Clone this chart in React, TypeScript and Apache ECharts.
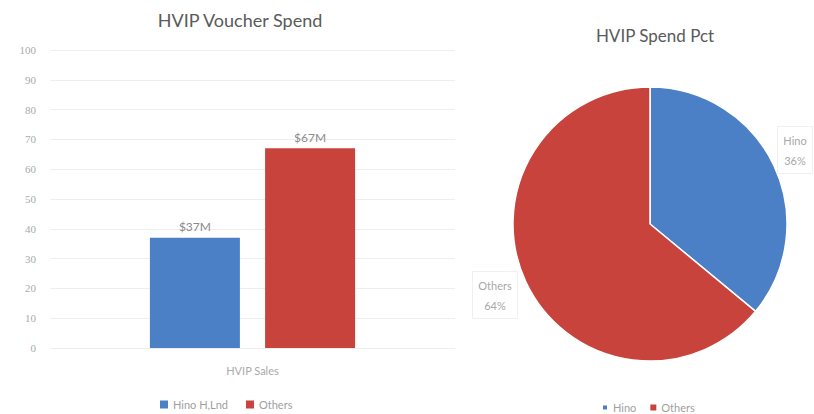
import React, { useEffect, useRef } from "react";
import * as echarts from "echarts";

const categories = ["HVIP Sales"];
const seriesNames = ["Hino H,Lnd", "Others"];
const barValues = [37, 67];
const barLabels = ["$37M", "$67M"];
const pieNames = ["Hino", "Others"];
const pieValues = [36, 64];
const yTicks = { min: 0, max: 100, interval: 10 };

const BLUE = "#4b7fc6";
const RED = "#c7433c";
const FONT = "Lato, 'Open Sans', sans-serif";

export default function App() {
  const ref = useRef<HTMLDivElement>(null);
  useEffect(() => {
    if (!ref.current) return;
    const chart = echarts.init(ref.current, undefined, { renderer: "svg" });
    const colors = [BLUE, RED];
    chart.setOption({
      animation: false,
      backgroundColor: "#ffffff",
      textStyle: { fontFamily: FONT },
      title: [
        {
          text: "HVIP Voucher Spend",
          left: 235,
          textAlign: "center",
          top: 6,
          textStyle: { fontFamily: FONT, fontSize: 18, fontWeight: "normal", color: "#5a5a5a" },
        },
        {
          text: "HVIP Spend Pct",
          left: 650,
          textAlign: "center",
          top: 22,
          textStyle: { fontFamily: FONT, fontSize: 17, fontWeight: "normal", color: "#5a5a5a" },
        },
      ],
      legend: [
        {
          data: seriesNames,
          left: 155,
          top: 394,
          orient: "horizontal",
          icon: "rect",
          itemWidth: 8,
          itemHeight: 8,
          itemGap: 18,
          textStyle: { fontFamily: FONT, fontSize: 11, color: "#a0a0a0" },
        },
        {
          data: pieNames,
          left: 596,
          top: 397,
          icon: "rect",
          itemWidth: 6,
          itemHeight: 6,
          itemGap: 14,
          textStyle: { fontFamily: FONT, fontSize: 11, color: "#a0a0a0" },
        },
      ],
      grid: { left: 50, right: 359, top: 50, bottom: 66, containLabel: false },
      xAxis: {
        type: "category",
        data: categories,
        axisLine: { show: false },
        axisTick: { show: false },
        axisLabel: { color: "#aaaaaa", fontSize: 11, margin: 17, fontFamily: FONT },
      },
      yAxis: {
        type: "value",
        min: yTicks.min,
        max: yTicks.max,
        interval: yTicks.interval,
        axisLine: { show: false },
        axisTick: { show: false },
        axisLabel: { color: "#aaaaaa", fontSize: 11, margin: 14, fontFamily: "'Liberation Serif', serif" },
        splitLine: { lineStyle: { color: "#eeeeee", width: 1 } },
      },
      series: [
        ...seriesNames.map((name, i) => ({
          type: "bar",
          name,
          data: [barValues[i]],
          barWidth: 90,
          barGap: "28%",
          itemStyle: { color: colors[i] },
          label: {
            show: true,
            position: "top",
            distance: 5,
            formatter: () => barLabels[i],
            color: "#8a8a8a",
            fontSize: 12,
            fontFamily: FONT,
          },
        })),
        {
          type: "pie",
          center: [650, 224],
          radius: 137,
          startAngle: 90,
          clockwise: true,
          data: pieNames.map((n, i) => ({
            name: n,
            value: pieValues[i],
            itemStyle: { color: colors[i] },
            label: { width: i === 0 ? 26 : 34, padding: i === 0 ? [3, 4] : [3, 5] },
          })),
          itemStyle: { borderColor: "#ffffff", borderWidth: 1.5 },
          label: {
            show: true,
            position: "outside",
            formatter: "{b}\n{d}%",
            color: "#a8a8a8",
            fontSize: 11,
            lineHeight: 20,
            fontFamily: FONT,
            align: "center",
            borderColor: "#f0f0f0",
            borderWidth: 1,
            backgroundColor: "#ffffff",
            overflow: "none",
          },
          labelLine: { show: false, length: 12, length2: 0 },
          labelLayout: (params: any) => {
            const idx = params.dataIndex;
            if (idx === 0) return { x: 795, y: 150, align: "center" };
            return { x: 495, y: 295, align: "center" };
          },
          emphasis: { disabled: true },
        },
      ],
    });
    return () => chart.dispose();
  }, []);
  return (
    <div
      ref={ref}
      style={{ position: "fixed", left: 0, top: 0, width: 814, height: 414 }}
    />
  );
}
